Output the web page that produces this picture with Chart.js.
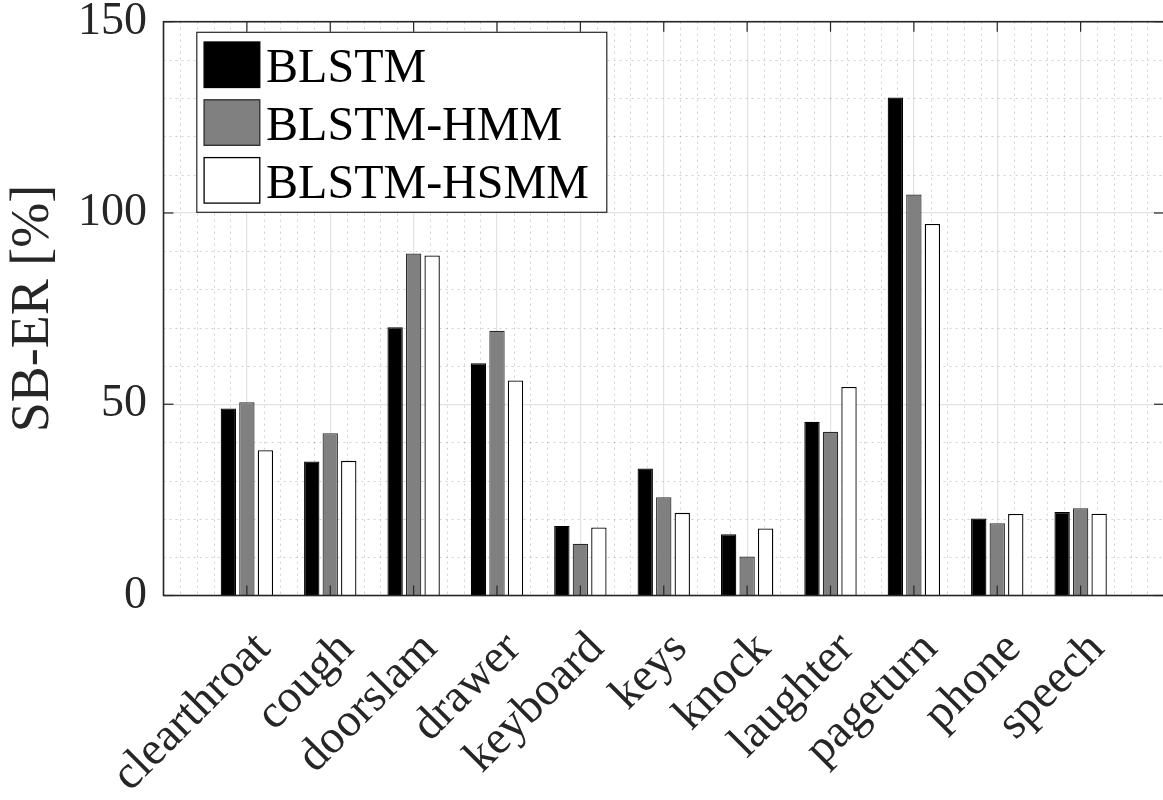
<!DOCTYPE html>
<html>
<head>
<meta charset="utf-8">
<script src="https://cdn.jsdelivr.net/npm/chart.js@4.4.1/dist/chart.umd.min.js"></script>
<style>
  html, body { margin: 0; padding: 0; background: #fff; overflow: hidden; }
  #wrap { width: 1166px; height: 800px; position: relative; }
</style>
</head>
<body>
<div id="wrap"><canvas id="c" width="1166" height="800"></canvas></div>
<script>
// Sound event classes and the three systems' SB-ER scores (%)
const categories = ['clearthroat', 'cough', 'doorslam', 'drawer', 'keyboard', 'keys',
                    'knock', 'laughter', 'pageturn', 'phone', 'speech'];
const seriesNames = ['BLSTM', 'BLSTM-HMM', 'BLSTM-HSMM'];
const blstm     = [48.9, 35.0, 70.1, 60.7, 18.2, 33.2, 16.0, 45.4, 130.2, 20.1, 21.8];
const blstmHmm  = [50.5, 42.4, 89.4, 69.2, 13.5, 25.7, 10.2, 42.8, 104.8, 18.9, 22.8];
const blstmHsmm = [38.0, 35.2, 88.9, 56.2, 17.8, 21.6, 17.5, 54.5,  97.1, 21.3, 21.4];
const yTicks = [0, 50, 100, 150];
const yMinorStep = 10;
const xMinorStep = 0.2;

const FONT = '"Liberation Serif", "Times New Roman", serif';
const AXIS_COLOR = '#262626';

// categories sit at x = 1..11 on a 0..12 linear axis
const toPoints = vals => vals.map((v, i) => ({ x: i + 1, y: v }));

// dotted minor grid behind the bars
const minorGrid = {
  id: 'minorGrid',
  beforeDatasetsDraw(chart) {
    const { ctx, chartArea: a, scales: { x, y } } = chart;
    ctx.save();
    ctx.strokeStyle = 'rgba(0,0,0,0.18)';
    ctx.lineWidth = 1;
    ctx.setLineDash([2, 4]);
    const n = Math.round((x.max - x.min) / xMinorStep);
    for (let k = 1; k < n; k++) {
      if (k % 5 === 0) continue;
      const px = Math.round(x.getPixelForValue(x.min + k * xMinorStep)) + 0.5;
      ctx.beginPath(); ctx.moveTo(px, a.top); ctx.lineTo(px, a.bottom); ctx.stroke();
    }
    for (let v = yMinorStep; v < y.max; v += yMinorStep) {
      if (v % 50 === 0) continue;
      const py = Math.round(y.getPixelForValue(v)) + 0.5;
      ctx.beginPath(); ctx.moveTo(a.left, py); ctx.lineTo(a.right, py); ctx.stroke();
    }
    ctx.restore();
  }
};

// box around the plot with inward tick marks on all four sides
const frame = {
  id: 'frame',
  afterDatasetsDraw(chart) {
    const { ctx, chartArea: a, scales: { x, y } } = chart;
    const seg = (x1, y1, x2, y2) => { ctx.beginPath(); ctx.moveTo(x1, y1); ctx.lineTo(x2, y2); ctx.stroke(); };
    ctx.save();
    ctx.strokeStyle = AXIS_COLOR;
    ctx.lineWidth = 1.2;
    const tl = 10;
    categories.forEach((_, i) => {
      const px = x.getPixelForValue(i + 1);
      seg(px, a.bottom, px, a.bottom - tl);
      seg(px, a.top, px, a.top + tl);
    });
    yTicks.forEach(v => {
      const py = y.getPixelForValue(v);
      seg(a.left, py, a.left + tl, py);
      seg(a.right, py, a.right - tl, py);
    });
    ctx.lineWidth = 1.6;
    ctx.strokeRect(a.left, a.top, a.right - a.left, a.bottom - a.top);
    ctx.restore();
  }
};

// boxed legend in the upper-left corner of the plot
const boxLegend = {
  id: 'boxLegend',
  afterDraw(chart) {
    const { ctx, chartArea: a } = chart;
    const x0 = a.left + 33.3, y0 = a.top + 10.6, w = 410, h = 180;
    ctx.save();
    ctx.fillStyle = '#fff';
    ctx.fillRect(x0, y0, w, h);
    ctx.strokeStyle = AXIS_COLOR;
    ctx.lineWidth = 1.2;
    ctx.strokeRect(x0, y0, w, h);
    chart.data.datasets.forEach((ds, i) => {
      const sy = y0 + 9.7 + i * 57.8;
      ctx.fillStyle = ds.backgroundColor;
      ctx.fillRect(x0 + 7.3, sy, 55.7, 45.5);
      ctx.strokeStyle = ds.borderColor;
      ctx.lineWidth = 1.3;
      ctx.strokeRect(x0 + 7.3, sy, 55.7, 45.5);
      ctx.fillStyle = '#000';
      ctx.font = '48px ' + FONT;
      ctx.textBaseline = 'alphabetic';
      ctx.textAlign = 'left';
      ctx.fillText(ds.label, x0 + 69.3, sy + 40.3);
    });
    ctx.restore();
  }
};

new Chart(document.getElementById('c'), {
  type: 'bar',
  data: {
    datasets: [
      { label: seriesNames[0], data: toPoints(blstm),     backgroundColor: '#000000', borderColor: '#000000', borderWidth: 1.2 },
      { label: seriesNames[1], data: toPoints(blstmHmm),  backgroundColor: '#808080', borderColor: '#2a2a2a', borderWidth: 1.2 },
      { label: seriesNames[2], data: toPoints(blstmHsmm), backgroundColor: '#ffffff', borderColor: '#000000', borderWidth: 1.3 }
    ]
  },
  options: {
    responsive: false,
    animation: false,
    devicePixelRatio: 1,
    layout: { padding: { top: 21.7, right: 2, bottom: 0, left: 0 } },
    datasets: { bar: { categoryPercentage: 0.666, barPercentage: 0.83, borderSkipped: 'start' } },
    plugins: { legend: { display: false }, tooltip: { enabled: false } },
    scales: {
      x: {
        type: 'linear', min: 0, max: 12, offset: false,
        grid: { offset: false, color: '#e2e2e2', lineWidth: 1.2, drawTicks: false },
        border: { display: false },
        ticks: {
          stepSize: 1, autoSkip: false, maxRotation: 45, minRotation: 45,
          padding: 26, labelOffset: 16.5, color: AXIS_COLOR,
          font: { family: FONT, size: 47 },
          callback: v => (Number.isInteger(v) && categories[v - 1]) ? categories[v - 1] : ''
        },
        afterFit(s) { s.height = 204.5; s.paddingLeft = 0; s.paddingRight = 0; }
      },
      y: {
        min: 0, max: 150,
        grid: { color: '#e2e2e2', lineWidth: 1.2, drawTicks: false },
        border: { display: false },
        ticks: { stepSize: 50, padding: 16.5, color: AXIS_COLOR, font: { family: FONT, size: 46, lineHeight: 0.8 } },
        title: { display: true, text: 'SB-ER [%]', color: AXIS_COLOR, font: { family: FONT, size: 54 }, padding: { top: 1, bottom: 0 } },
        afterFit(s) { s.width = 163.5; s.paddingTop = 0; s.paddingBottom = 0; }
      }
    }
  },
  plugins: [minorGrid, frame, boxLegend]
});
</script>
</body>
</html>
